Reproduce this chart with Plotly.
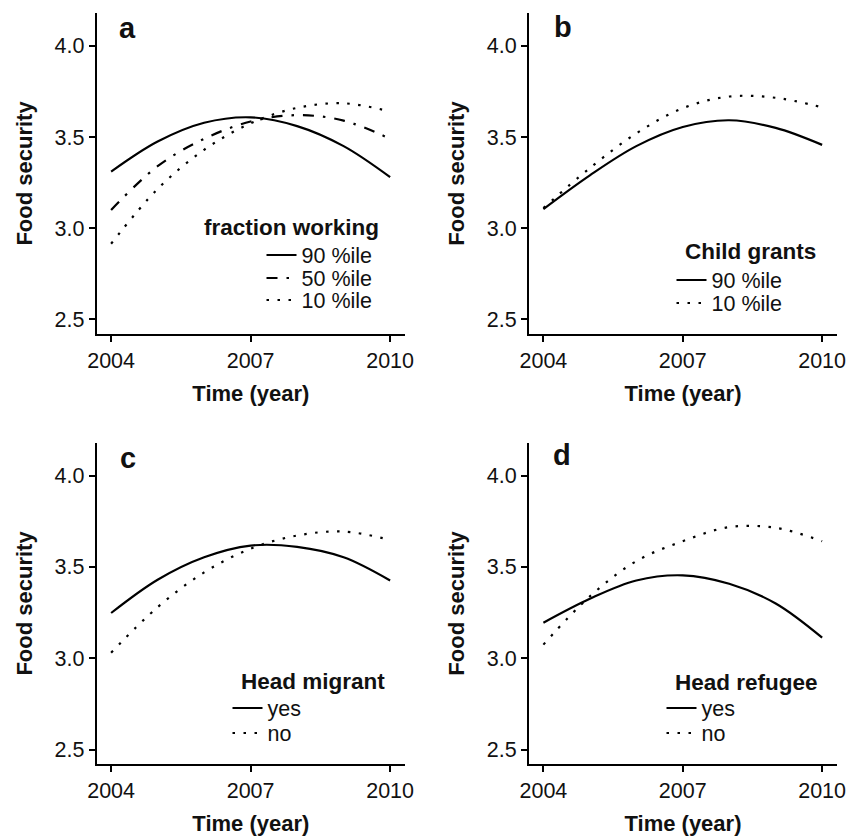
import plotly.graph_objects as go

W, H = 859, 837

years = [2004, 2005, 2006, 2007, 2008, 2009, 2010]

# Panel a: fraction working
a_90 = [3.310, 3.475, 3.578, 3.608, 3.560, 3.450, 3.280]
a_50 = [3.100, 3.340, 3.490, 3.585, 3.620, 3.590, 3.490]
a_10 = [2.915, 3.215, 3.430, 3.575, 3.660, 3.685, 3.640]

# Panel b: child grants
b_90 = [3.105, 3.290, 3.450, 3.555, 3.592, 3.550, 3.457]
b_10 = [3.110, 3.330, 3.520, 3.658, 3.722, 3.715, 3.663]

# Panel c: head migrant
c_yes = [3.248, 3.430, 3.553, 3.617, 3.610, 3.553, 3.426]
c_no = [3.031, 3.280, 3.470, 3.600, 3.672, 3.694, 3.648]

# Panel d: head refugee
d_yes = [3.195, 3.326, 3.426, 3.454, 3.408, 3.300, 3.113]
d_no = [3.075, 3.339, 3.532, 3.641, 3.718, 3.714, 3.641]

x_ticks = [2004, 2007, 2010]
y_ticks = [2.5, 3.0, 3.5, 4.0]
panel_letters = ["a", "b", "c", "d"]
legend_titles = ["fraction working", "Child grants", "Head migrant", "Head refugee"]

FONT = "Liberation Sans, Arial, Helvetica, sans-serif"
DOT = "2.5px,8.5px"
DASHDOT = "11px,9px,2.5px,9px"
SOLID = "solid"
LW = 2.2

def px_x(p):
    return p / W

def px_y(p):
    return 1 - p / H

# (series, name, dash, axis index, legend id, legend text x px, legend y px)
series = [
    (a_90, "90 %ile", SOLID, 1, "legend", 302, 255),
    (a_50, "50 %ile", DASHDOT, 1, "legend2", 302, 278),
    (a_10, "10 %ile", DOT, 1, "legend3", 302, 300),
    (b_90, "90 %ile", SOLID, 2, "legend4", 712, 280),
    (b_10, "10 %ile", DOT, 2, "legend5", 712, 303),
    (c_yes, "yes", SOLID, 3, "legend6", 268, 708),
    (c_no, "no", DOT, 3, "legend7", 268, 733),
    (d_yes, "yes", SOLID, 4, "legend8", 702, 708),
    (d_no, "no", DOT, 4, "legend9", 702, 733),
]

fig = go.Figure()
layout_legends = {}
for vals, name, dash, ax, lg, tx, ty in series:
    suffix = "" if ax == 1 else str(ax)
    fig.add_trace(go.Scatter(
        x=years, y=vals, mode="lines", name=name,
        line=dict(color="black", width=LW, dash=dash, shape="spline", smoothing=1.0),
        xaxis="x" + suffix, yaxis="y" + suffix,
        legend=lg, showlegend=True,
    ))
    layout_legends[lg] = dict(
        x=px_x(tx - 40.5), y=px_y(ty), xanchor="left", yanchor="middle",
        bgcolor="rgba(0,0,0,0)", borderwidth=0, itemwidth=30,
        font=dict(family=FONT, size=21.5, color="#111"),
        orientation="v", tracegroupgap=0,
    )

xdom = [[96.7 / W, 405 / W], [529 / W, 837 / W]]
ydom = [[1 - 334 / H, 1 - 13 / H], [1 - 764.3 / H, 1 - 442.7 / H]]

TICKFONT = dict(family=FONT, size=21.5, color="#111")

layout = dict(
    template="none",
    width=W, height=H,
    margin=dict(l=0, r=0, t=0, b=0, autoexpand=False),
    paper_bgcolor="white", plot_bgcolor="white",
    font=dict(family=FONT, color="black", size=22),
)

for i in range(4):
    suffix = "" if i == 0 else str(i + 1)
    col = i % 2
    row = i // 2
    layout["xaxis" + suffix] = dict(
        showline=True, linecolor="black", linewidth=2, automargin=False,
        ticks="outside", ticklen=6, tickwidth=1.5, tickcolor="black",
        showgrid=False, zeroline=False, tickfont=TICKFONT,
        domain=xdom[col], range=[2003.69, 2010.32],
        tickmode="array", tickvals=x_ticks, ticktext=[str(t) for t in x_ticks],
        anchor="y" + suffix,
        title=dict(text="<b>Time (year)</b>", font=dict(family=FONT, size=22, color="#111"), standoff=14),
    )
    layout["yaxis" + suffix] = dict(
        showline=True, linecolor="black", linewidth=2, automargin=False,
        ticks="outside", ticklen=6, tickwidth=1.5, tickcolor="black",
        showgrid=False, zeroline=False, tickfont=TICKFONT,
        domain=ydom[row], range=[2.42, 4.18],
        tickmode="array", tickvals=y_ticks, ticktext=["%.1f" % t for t in y_ticks],
        anchor="x" + suffix,
        title=dict(text="<b>Food security</b>", font=dict(family=FONT, size=22, color="#111"), standoff=16),
    )

layout.update(layout_legends)
fig.update_layout(**layout)

letter_pos = [(127, 28), (563, 27), (128, 458), (562, 455)]
for letter, (lx, ly) in zip(panel_letters, letter_pos):
    fig.add_annotation(
        text="<b>%s</b>" % letter, x=px_x(lx), y=px_y(ly), xref="paper", yref="paper",
        xanchor="center", yanchor="middle", showarrow=False,
        font=dict(family=FONT, size=29, color="#111"),
    )

title_pos = [(202, 227), (683, 252), (239, 681), (673, 682)]
for t, (tx, ty) in zip(legend_titles, title_pos):
    fig.add_annotation(
        text="<b>%s</b>" % t, x=px_x(tx), y=px_y(ty), xref="paper", yref="paper",
        xanchor="left", yanchor="middle", showarrow=False,
        font=dict(family=FONT, size=22.5, color="#111"),
    )

fig.write_html("out.html")
